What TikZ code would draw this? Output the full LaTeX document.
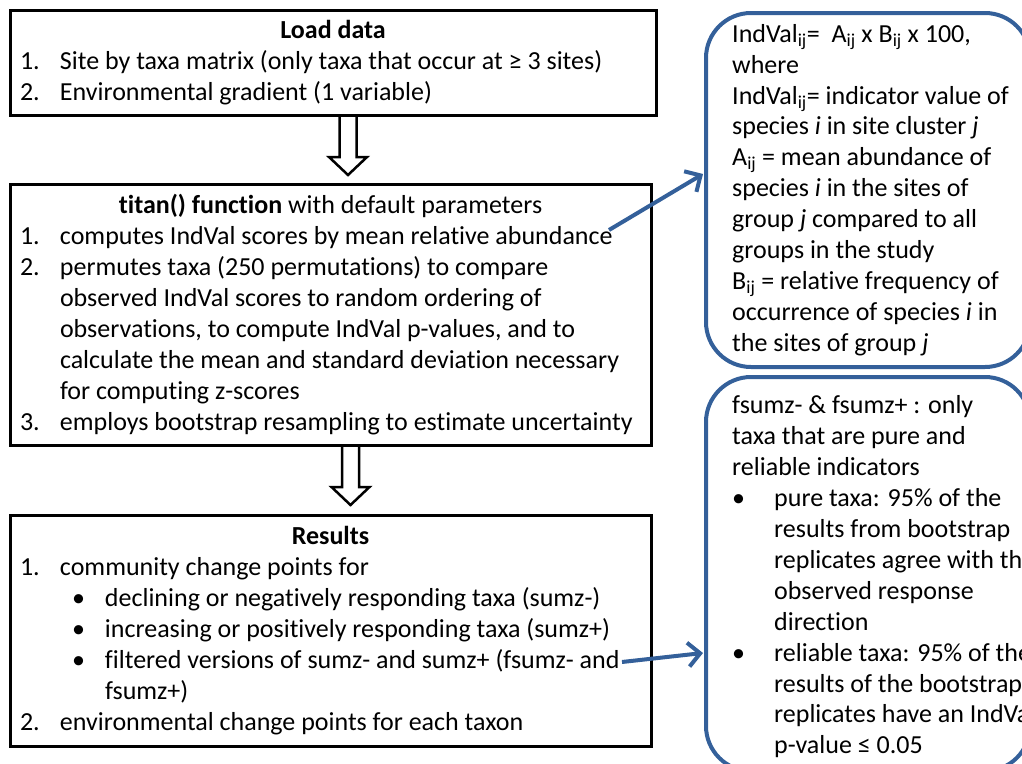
\documentclass[tikz,border=0pt]{standalone}
\usepackage{fontspec}
\setmainfont{Carlito}[Ligatures=NoCommon]
\usetikzlibrary{arrows.meta}
\definecolor{frameblue}{RGB}{52,96,154}
\newcommand{\lbl}[1]{\makebox[40pt][l]{#1}}
\newcommand{\subij}{\textsubscript{ij}}
\newcommand{\subbullet}{\hspace*{52pt}\makebox[33pt][l]{•}}
\newcommand{\infobullet}{\makebox[42pt][l]{•}}
\tikzset{
  stepbox/.style={draw, line width=3pt, anchor=north west, align=left,
    inner xsep=10pt, inner ysep=0pt, outer sep=0pt},
  infobox/.style={draw=frameblue, line width=4pt, rounded corners=45pt,
    anchor=north west, minimum width=324pt, outer sep=0pt},
  infotext/.style={anchor=west, align=left, inner sep=0pt},
  link/.style={draw=frameblue, line width=4pt, -{Straight Barb[length=12pt, width=24pt]}},
  blockdown/.pic={
    \draw[line width=2.5pt] (-8.5,0) -- (-8.5,42) -- (-19,42) -- (0,60)
      -- (19,42) -- (8.5,42) -- (8.5,0);
  }
}
\begin{document}
\begin{tikzpicture}[x=1pt, y=-1pt, font=\fontsize{26}{30.9}\selectfont]
  \clip (0,0) rectangle (1022,763);
  % left column
  \node[stepbox, minimum width=646pt, minimum height=105pt] (load) at (10,10)
    {\makebox[626pt]{\bfseries Load data}\\
     \lbl{1.}Site by taxa matrix (only taxa that occur at ≥ 3 sites)\\
     \lbl{2.}Environmental gradient (1 variable)};
  \node[stepbox, minimum width=641pt, minimum height=261pt] (titan) at (10,184)
    {\makebox[621pt]{\textbf{titan() function} with default parameters}\\
     \lbl{1.}computes IndVal scores by mean relative abundance\\
     \lbl{2.}permutes taxa (250 permutations) to compare\\
     \hspace*{40pt}observed IndVal scores to random ordering of\\
     \hspace*{40pt}observations, to compute IndVal p-values, and to\\
     \hspace*{40pt}calculate the mean and standard deviation necessary\\
     \hspace*{40pt}for computing z-scores\\
     \lbl{3.}employs bootstrap resampling to estimate uncertainty};
  \node[stepbox, minimum width=641pt, minimum height=231pt] (results) at (10,515)
    {\makebox[621pt]{\bfseries Results}\\
     \lbl{1.}community change points for\\
     \subbullet declining or negatively responding taxa (sumz-)\\
     \subbullet increasing or positively responding taxa (sumz+)\\
     \subbullet filtered versions of sumz- and sumz+ (fsumz- and\\
     \hspace*{85pt}fsumz+)\\
     \lbl{2.}environmental change points for each taxon};
  \pic at ([xshift=15pt]load.south) {blockdown};
  \pic at ([xshift=20pt]titan.south) {blockdown};
  % right column
  \node[infobox, minimum height=354pt] (ind) at (706,13) {};
  \node[infotext] (indtxt) at ([xshift=26pt]ind.west)
    {IndVal\subij= \ A\subij{} x B\subij{} x 100,\\
     where\\
     IndVal\subij= indicator value of\\
     species \textit{i} in site cluster \textit{j}\\
     A\subij{} = mean abundance of\\
     species \textit{i} in the sites of\\
     group \textit{j} compared to all\\
     groups in the study\\
     B\subij{} = relative frequency of\\
     occurrence of species \textit{i} in\\
     the sites of group \textit{j}};
  \node[infobox, minimum height=394pt] (rel) at (706,377) {};
  \node[infotext] (reltxt) at ([xshift=26pt, yshift=-3pt]rel.west)
    {fsumz- \& fsumz+ : only\\
     taxa that are pure and\\
     reliable indicators\\
     \infobullet pure taxa: 95\% of the\\
     \hspace*{42pt}results from bootstrap\\
     \hspace*{42pt}replicates agree with the\\
     \hspace*{42pt}observed response\\
     \hspace*{42pt}direction\\
     \infobullet reliable taxa: 95\% of the\\
     \hspace*{42pt}results of the bootstrap\\
     \hspace*{42pt}replicates have an IndVal\\
     \hspace*{42pt}p-value ≤ 0.05};
  % links
  \coordinate (abund) at (609,230);
  \coordinate (fsumz) at (622,662);
  \draw[link] (abund) -- ([xshift=-3pt, yshift=16pt]ind.west);
  \draw[link] (fsumz) -- ([xshift=-3pt, yshift=-79pt]rel.west);
\end{tikzpicture}
\end{document}
